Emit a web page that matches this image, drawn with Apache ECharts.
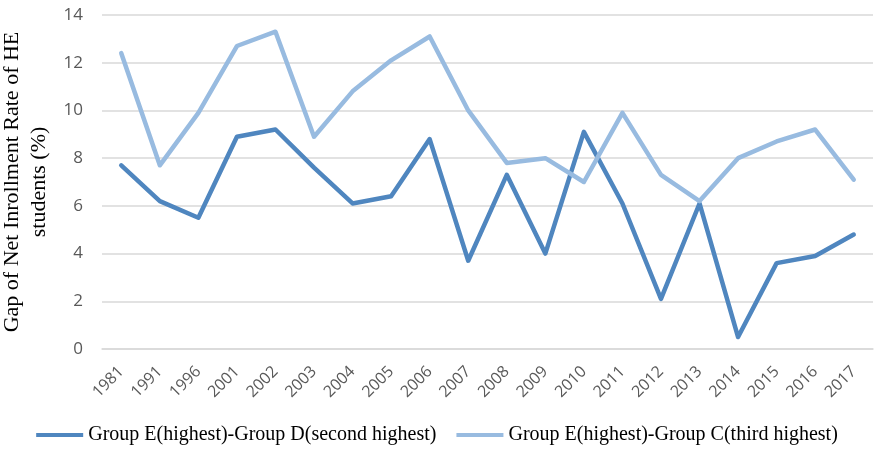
<!DOCTYPE html>
<html>
<head>
<meta charset="utf-8">
<script src="https://cdn.jsdelivr.net/npm/echarts@6/dist/echarts.min.js"></script>
<style>
  html, body { margin: 0; padding: 0; background: #fff; }
  #chart { width: 874px; height: 453px; }
</style>
</head>
<body>
<div id="chart"></div>
<script>
// Survey years
const years = ['1981','1991','1996','2001','2002','2003','2004','2005','2006','2007',
               '2008','2009','2010','2011','2012','2013','2014','2015','2016','2017'];

// Gap between highest and second-highest income group (percentage points)
const gapED = [7.7, 6.2, 5.5, 8.9, 9.2, 7.6, 6.1, 6.4, 8.8, 3.7,
               7.3, 4.0, 9.1, 6.1, 2.1, 6.1, 0.5, 3.6, 3.9, 4.8];

// Gap between highest and third-highest income group (percentage points)
const gapEC = [12.4, 7.7, 9.9, 12.7, 13.3, 8.9, 10.8, 12.1, 13.1, 10.0,
               7.8, 8.0, 7.0, 9.9, 7.3, 6.2, 8.0, 8.7, 9.2, 7.1];

const seriesNames = ['Group E(highest)-Group D(second highest)',
                     'Group E(highest)-Group C(third highest)'];

const chart = echarts.init(document.getElementById('chart'), null, { renderer: 'canvas' });

const serif = '"Liberation Serif", "Times New Roman", serif';
const sans = '"Open Sans", "Liberation Sans", sans-serif';

chart.setOption({
  animation: false,
  color: ['#4f86bf', '#98bbe0'],
  grid: { left: 102, right: 1, top: 15, bottom: 104, containLabel: false, outerBoundsMode: 'none' },
  legend: {
    bottom: 3,
    left: 'center',
    itemWidth: 47,
    itemHeight: 4,
    itemGap: 20,
    icon: 'rect',
    textStyle: { fontFamily: serif, fontSize: 20, color: '#000' },
    data: seriesNames
  },
  xAxis: {
    type: 'category',
    data: years,
    boundaryGap: true,
    axisLine: { show: true, lineStyle: { color: '#d9d9d9', width: 1.5 } },
    axisTick: { show: false },
    axisLabel: { rotate: 45, color: '#595959', fontFamily: sans, fontSize: 16, margin: 20, interval: 0 }
  },
  yAxis: {
    type: 'value',
    min: 0,
    max: 14,
    interval: 2,
    name: 'Gap of Net Inrollment Rate of HE\nstudents (%)',
    nameLocation: 'middle',
    nameGap: 41,
    nameTextStyle: { fontFamily: serif, fontSize: 22, color: '#000', lineHeight: 27 },
    axisLine: { show: false },
    axisTick: { show: false },
    axisLabel: { color: '#595959', fontFamily: sans, fontSize: 17, margin: 19 },
    splitLine: { lineStyle: { color: '#d9d9d9', width: 1.5 } }
  },
  series: [
    {
      name: seriesNames[0],
      type: 'line',
      data: gapED,
      symbol: 'none',
      lineStyle: { width: 4.5, cap: 'round', join: 'round' }
    },
    {
      name: seriesNames[1],
      type: 'line',
      data: gapEC,
      symbol: 'none',
      lineStyle: { width: 4.5, cap: 'round', join: 'round' }
    }
  ]
});
</script>
</body>
</html>
